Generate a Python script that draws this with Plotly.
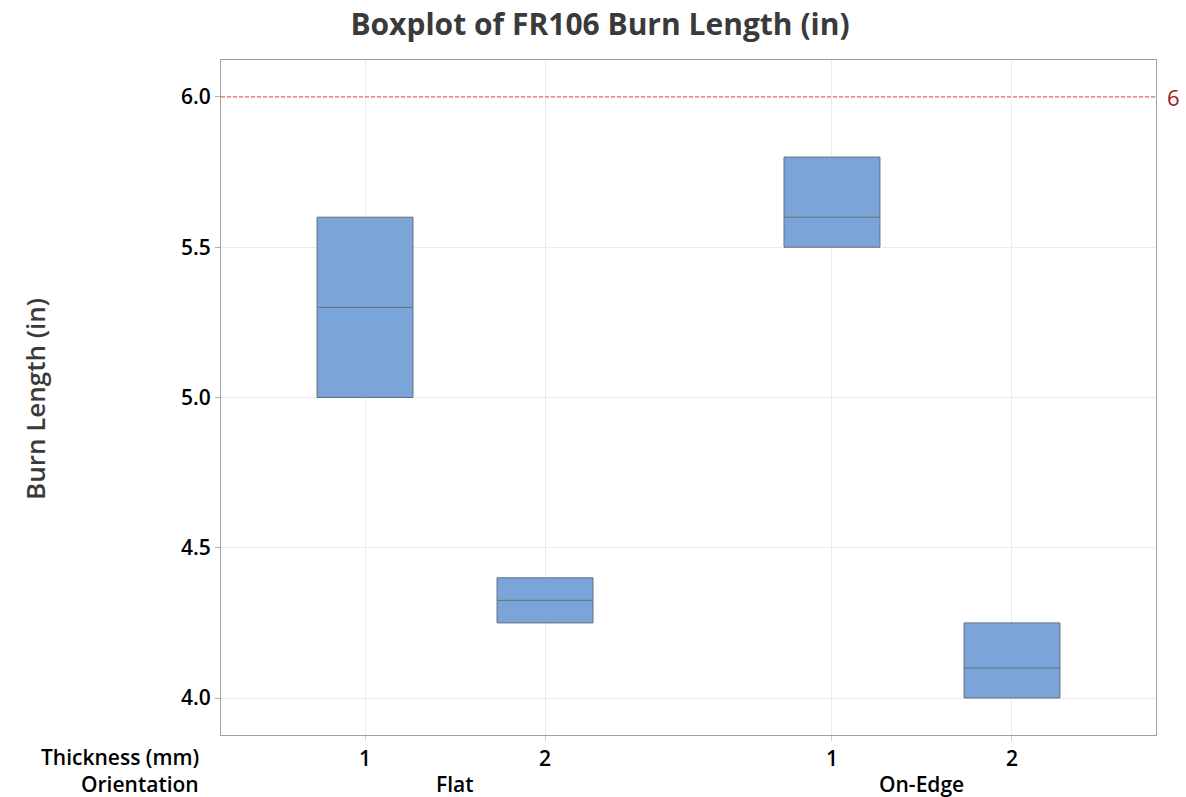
import plotly.graph_objects as go

# Data
orientation = ["Flat", "Flat", "On-Edge", "On-Edge"]
thickness = ["1", "2", "1", "2"]
positions = [1.0, 2.0, 3.594, 4.594]
q1 = [5.0, 4.25, 5.5, 4.0]
median = [5.3, 4.325, 5.6, 4.1]
q3 = [5.6, 4.4, 5.8, 4.25]
ref_value = 6.0
y_ticks = [4.0, 4.5, 5.0, 5.5, 6.0]

W, H = 1186, 797
L, R, T, B = 221, 30, 60, 62
font = "Open Sans"
tick_font = dict(family=font, size=21, color="#000", weight=600)

fig = go.Figure()
fig.add_trace(go.Box(
    x=positions, q1=q1, median=median, q3=q3,
    lowerfence=q1, upperfence=q3,
    width=0.533,
    fillcolor="#7BA5D9",
    line=dict(color="#66707a", width=1),
    whiskerwidth=0,
    boxpoints=False,
    showlegend=False,
    hoverinfo="skip",
))

fig.add_hline(y=ref_value, line=dict(color="#e04848", width=1, dash="4px,2px"))

fig.update_layout(
    width=W, height=H,
    margin=dict(l=L, r=R, t=T, b=B),
    paper_bgcolor="white", plot_bgcolor="white",
    title=dict(text="<b>Boxplot of FR106 Burn Length (in)</b>",
               x=600 / W, xanchor="center", y=1 - 24 / H, yanchor="middle",
               font=dict(family=font, size=30, color="#3a3a3a")),
    font=dict(family=font, color="#111"),
)

fig.update_xaxes(
    range=[0.2, 5.394],
    tickvals=positions, ticktext=thickness,
    tickfont=tick_font,
    showgrid=True, gridcolor="#ebebeb", gridwidth=1,
    showline=True, linecolor="#a0a0a0", linewidth=1, mirror=True,
    ticks="outside", ticklen=5, tickcolor="#d0d0d0",
    zeroline=False,
)
fig.update_yaxes(
    range=[3.877, 6.123],
    tickvals=y_ticks, ticktext=[f"{v:.1f}" for v in y_ticks],
    tickfont=tick_font,
    showgrid=True, gridcolor="#ebebeb", gridwidth=1,
    showline=True, linecolor="#a0a0a0", linewidth=1, mirror=True,
    ticks="outside", ticklen=5, tickcolor="#b0b0b0",
    zeroline=False,
)

pw = W - L - R
ph = H - T - B
def px_x(p):
    return (p - L) / pw
def px_y(p):
    return 1 - (p - T) / ph

annotations = [
    dict(text="Burn Length (in)", textangle=-90, xref="paper", yref="paper",
         x=px_x(35), y=px_y(399), showarrow=False, xanchor="center", yanchor="middle",
         font=dict(family=font, size=26, color="#3a3a3a", weight=600)),
    dict(text="Thickness (mm)", xref="paper", yref="paper",
         x=px_x(201), y=px_y(757), showarrow=False, xanchor="right", yanchor="middle",
         font=tick_font),
    dict(text="Orientation", xref="paper", yref="paper",
         x=px_x(201), y=px_y(784), showarrow=False, xanchor="right", yanchor="middle",
         font=tick_font),
    dict(text=str(int(ref_value)), xref="paper", yref="y",
         x=1, xshift=17, y=ref_value, showarrow=False, xanchor="center", yanchor="middle",
         font=dict(family=font, size=22, color="#9b1b1b")),
]
groups = {}
for o, p in zip(orientation, positions):
    groups.setdefault(o, []).append(p)
for o, ps in groups.items():
    annotations.append(dict(text=o, xref="x", yref="paper",
                            x=sum(ps) / len(ps), y=px_y(784), showarrow=False,
                            xanchor="center", yanchor="middle",
                            font=tick_font))
fig.update_layout(annotations=annotations)

fig.write_html("out.html")
